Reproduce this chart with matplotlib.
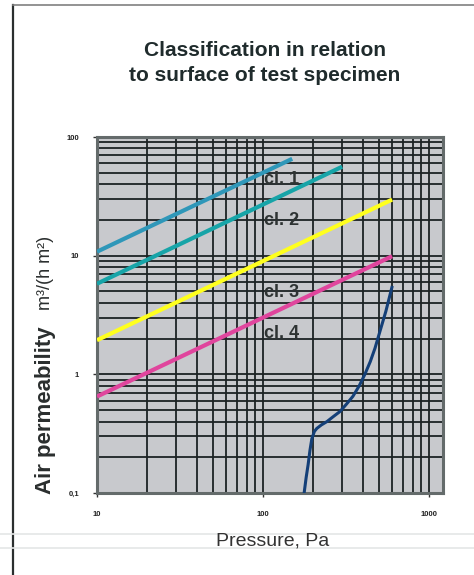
import numpy as np
import matplotlib
matplotlib.use('Agg')
import matplotlib.pyplot as plt
from matplotlib.lines import Line2D
from matplotlib.ticker import FixedLocator, FixedFormatter, NullFormatter

plt.rcParams['font.family'] = ['Liberation Sans', 'DejaVu Sans']

# class limits (pressure in Pa, air permeability in m3/(h m2))
cl1_p = [10, 150]
cl1_q = [10.8, 65.5]
cl2_p = [10, 300]
cl2_q = [5.8, 56.2]
cl3_p = [10, 600]
cl3_q = [1.94, 29.7]
cl4_p = [10, 600]
cl4_q = [0.65, 9.9]

# measured specimen
spec_p = [177, 182, 187, 192, 197, 204, 211, 225, 243, 265, 291, 318, 348, 380, 411, 443, 473, 507, 550, 598]
spec_q = [0.1, 0.135, 0.173, 0.23, 0.287, 0.33, 0.35, 0.375, 0.40, 0.44, 0.486, 0.56, 0.652, 0.80, 1.0, 1.28, 1.66, 2.31, 3.4, 5.4]

class_names = ['cl. 1', 'cl. 2', 'cl. 3', 'cl. 4']
class_label_p = [102, 102, 102, 102]
class_label_q = [44, 19.8, 4.85, 2.22]

x_ticks = [10, 100, 1000]
x_ticklabels = ['10', '100', '1000']
y_ticks = [0.1, 1, 10, 100]
y_ticklabels = ['0,1', '1', '10', '100']

W, H = 474, 575
fig = plt.figure(figsize=(W / 100, H / 100), dpi=100)

# page frame
fig.add_artist(Line2D([13 / W, 13 / W], [0, 1 - 5 / H], color='#2b2f2f', lw=1.6))
fig.add_artist(Line2D([13 / W, 1], [1 - 5 / H, 1 - 5 / H], color='#808080', lw=1.2))
for yy in (534, 548):
    fig.add_artist(Line2D([0, 1], [1 - yy / H, 1 - yy / H], color='#e4e6e6', lw=1.2))

ax = fig.add_axes([97 / W, 1 - 493 / H, 346 / W, 356 / H])
ax.set_facecolor('#c8c9cd')
ax.set_xscale('log')
ax.set_yscale('log')
ax.set_xlim(10, 1215)
ax.set_ylim(0.1, 100)

# log paper grid
minor = [m * 10.0 ** e for e in range(-1, 4) for m in range(2, 10)]
ax.xaxis.set_major_locator(FixedLocator(x_ticks))
ax.xaxis.set_major_formatter(FixedFormatter(x_ticklabels))
ax.yaxis.set_major_locator(FixedLocator(y_ticks))
ax.yaxis.set_major_formatter(FixedFormatter(y_ticklabels))
ax.xaxis.set_minor_locator(FixedLocator(minor))
ax.yaxis.set_minor_locator(FixedLocator(minor))
ax.xaxis.set_minor_formatter(NullFormatter())
ax.yaxis.set_minor_formatter(NullFormatter())
ax.grid(True, which='both', color='#1c2224', lw=1.3, zorder=1)
ax.set_axisbelow(True)

ax.tick_params(which='major', direction='out', length=3, width=1, color='#333333',
               labelsize=5.5, labelcolor='#222222', pad=10)
ax.tick_params(which='minor', length=0)
for lab in ax.get_xticklabels() + ax.get_yticklabels():
    lab.set_fontweight('bold')
for sp in ax.spines.values():
    sp.set_color('#646b6b')
    sp.set_linewidth(2.2)

ax.plot(cl1_p, cl1_q, color='#2f97b9', lw=3, solid_capstyle='butt', zorder=3)
ax.plot(cl2_p, cl2_q, color='#17a4a8', lw=3, solid_capstyle='butt', zorder=3)
ax.plot(cl3_p, cl3_q, color='#ffff1e', lw=3, solid_capstyle='butt', zorder=3)
ax.plot(cl4_p, cl4_q, color='#e0459d', lw=3, solid_capstyle='butt', zorder=3)
ax.plot(spec_p, spec_q, color='#143f78', lw=2.2, zorder=4)

for name, px, qy in zip(class_names, class_label_p, class_label_q):
    ax.text(px, qy, name, fontsize=13, fontweight='bold', color='#2e3333',
            ha='left', va='center', zorder=5)

fig.text(265 / W, 1 - 63 / H, 'Classification in relation\nto surface of test specimen',
         ha='center', va='center', fontsize=15, fontweight='bold', color='#1f2b2c',
         linespacing=1.35)
fig.text(46 / W, 1 - 410 / H, 'Air permeability', rotation=90, ha='center', va='center',
         fontsize=16, fontweight='bold', color='#2a2e2e')
fig.text(46 / W, 1 - 273 / H, 'm³/(h m²)', rotation=90, ha='center', va='center',
         fontsize=13, color='#2a2e2e')
fig.text(273 / W, 1 - 541 / H, 'Pressure, Pa', ha='center', va='center',
         fontsize=14, color='#333333')

fig.savefig('out.png', dpi=100)
